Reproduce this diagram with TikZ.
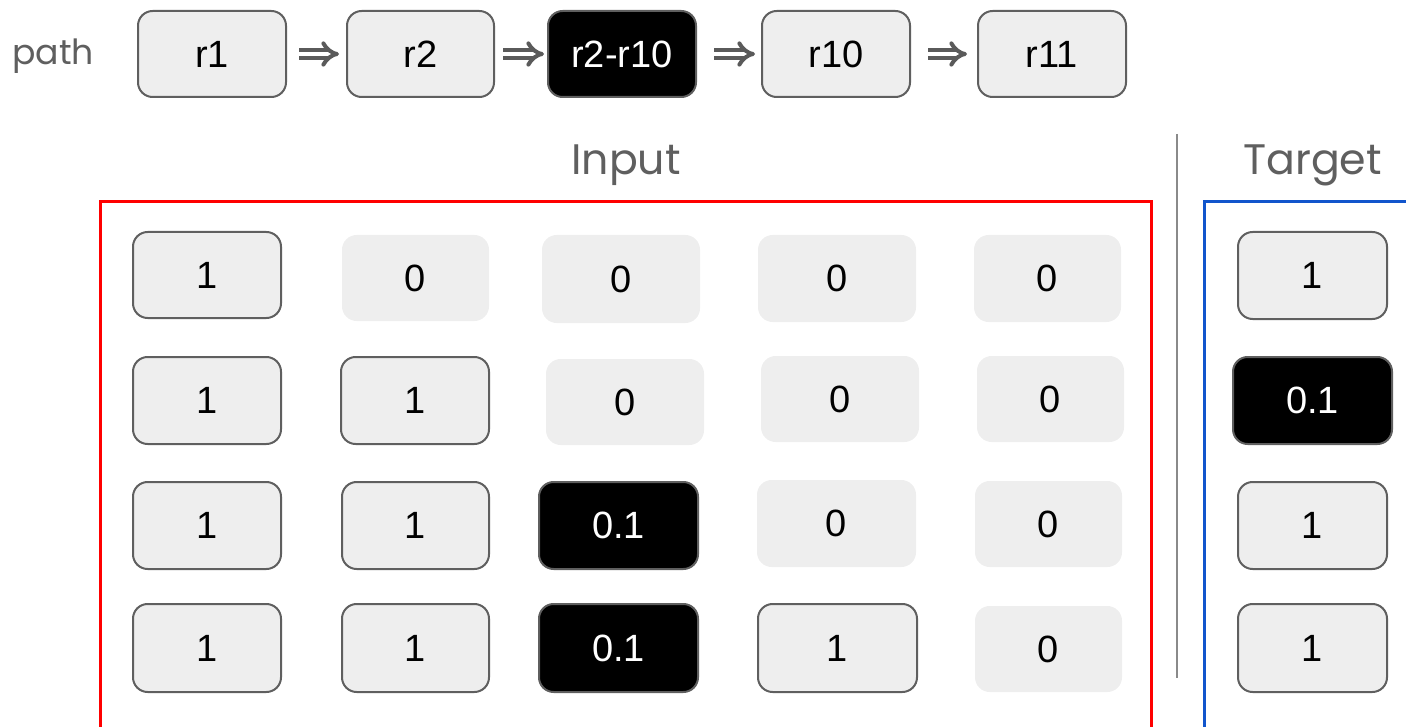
\documentclass[tikz,border=0pt]{standalone}
\usepackage{fontspec}
\setmainfont{Liberation Sans}
\newfontfamily\labfont{Poppins}
\usetikzlibrary{arrows.meta}
\definecolor{cellfill}{HTML}{EEEEEE}
\definecolor{cellline}{HTML}{5F5F5F}
\definecolor{labgray}{HTML}{5F5F5F}
\definecolor{arrgray}{HTML}{5A5A5A}
\definecolor{boxred}{HTML}{FF0000}
\definecolor{boxblue}{HTML}{1155CC}
\definecolor{divgray}{HTML}{8A8A8A}
\begin{document}
\begin{tikzpicture}[x=0.75pt,y=-0.75pt,
  cellbase/.style={rectangle, rounded corners=11pt, inner sep=0pt, font=\fontsize{28.5}{31}\selectfont},
  wh/.style 2 args={minimum width={#1*0.75pt}, minimum height={#2*0.75pt}},
  cellb/.style={cellbase, fill=cellfill, draw=cellline, line width=1.5pt},
  celln/.style={cellbase, fill=cellfill},
  cellk/.style={cellbase, fill=black, draw=cellline, line width=1.5pt, text=white},
  lab/.style={font=\labfont\fontsize{32}{36}\selectfont, text=labgray, inner sep=0pt, anchor=base},
  plab/.style={font=\labfont\fontsize{26}{30}\selectfont, text=labgray, inner sep=0pt, anchor=base},
  imp/.style={draw=arrgray, line width=3pt, double=white, double distance=3pt, -{Implies}},
  frame/.style={line width=2.25pt}
]
\useasboundingbox (0,0) rectangle (1406,727);
\clip (0,0) rectangle (1406,727);

% path row
\node[plab] (pathlab) at (53,65) {path};
\node[cellb, wh={148}{86}] (r1) at (212,54) {r1};
\node[cellb, wh={147}{86}] (r2) at (420.5,54) {r2};
\node[cellk, wh={148}{86}] (r2r10) at (622,54) {r2-r10};
\node[cellb, wh={148}{86}] (r10) at (836,54) {r10};
\node[cellb, wh={148}{86}] (r11) at (1052,54) {r11};
\draw[imp] ([xshift=12*0.75pt]r1.east) -- ([xshift=-7*0.75pt]r2.west);
\draw[imp] ([xshift=8*0.75pt]r2.east) -- ([xshift=-3*0.75pt]r2r10.west);
\draw[imp] ([xshift=17*0.75pt]r2r10.east) -- ([xshift=-6*0.75pt]r10.west);
\draw[imp] ([xshift=17*0.75pt]r10.east) -- ([xshift=-10*0.75pt]r11.west);

% headings and divider
\node[lab] (inlab) at (626,175) {Input};
\node[lab] (tglab) at (1312.5,175) {Target};
\coordinate (dtop) at (1177,134);
\coordinate (dbot) at (1177,678);
\draw[divgray, line width=1.3pt] (dtop) -- (dbot);

% frames
\draw[frame, boxred] (100,201.5) rectangle (1151,728.5);
\draw[frame, boxblue] (1204.5,201.5) rectangle (1430,728.5);

% input grid
\node[cellb, wh={148}{86}] (c11) at (207,275) {1};
\node[celln, wh={147}{86}] (c12) at (415.5,278) {0};
\node[celln, wh={158}{88}] (c13) at (621,279) {0};
\node[celln, wh={158}{87}] (c14) at (837,278.5) {0};
\node[celln, wh={147}{87}] (c15) at (1047.5,278.5) {0};

\node[cellb, wh={148}{87}] (c21) at (207,400.5) {1};
\node[cellb, wh={148}{87}] (c22) at (415,400.5) {1};
\node[celln, wh={158}{86}] (c23) at (625,402) {0};
\node[celln, wh={158}{86}] (c24) at (840,399) {0};
\node[celln, wh={147}{86}] (c25) at (1050.5,399) {0};

\node[cellb, wh={148}{87}] (c31) at (207,525.5) {1};
\node[cellb, wh={147}{87}] (c32) at (415.5,525.5) {1};
\node[cellk, wh={159}{87}] (c33) at (618.5,525.5) {0.1};
\node[celln, wh={159}{87}] (c34) at (836.5,523.5) {0};
\node[celln, wh={147}{86}] (c35) at (1048.5,524) {0};

\node[cellb, wh={148}{88}] (c41) at (207,648) {1};
\node[cellb, wh={147}{88}] (c42) at (415.5,648) {1};
\node[cellk, wh={159}{88}] (c43) at (618.5,648) {0.1};
\node[cellb, wh={159}{88}] (c44) at (837.5,648) {1};
\node[celln, wh={147}{86}] (c45) at (1048.5,649) {0};

% target column
\node[cellb, wh={149}{87}] (t1) at (1312.5,275.5) {1};
\node[cellk, wh={159}{87}] (t2) at (1312.5,400.5) {0.1};
\node[cellb, wh={149}{87}] (t3) at (1312.5,525.5) {1};
\node[cellb, wh={149}{88}] (t4) at (1312.5,648) {1};
\end{tikzpicture}
\end{document}
